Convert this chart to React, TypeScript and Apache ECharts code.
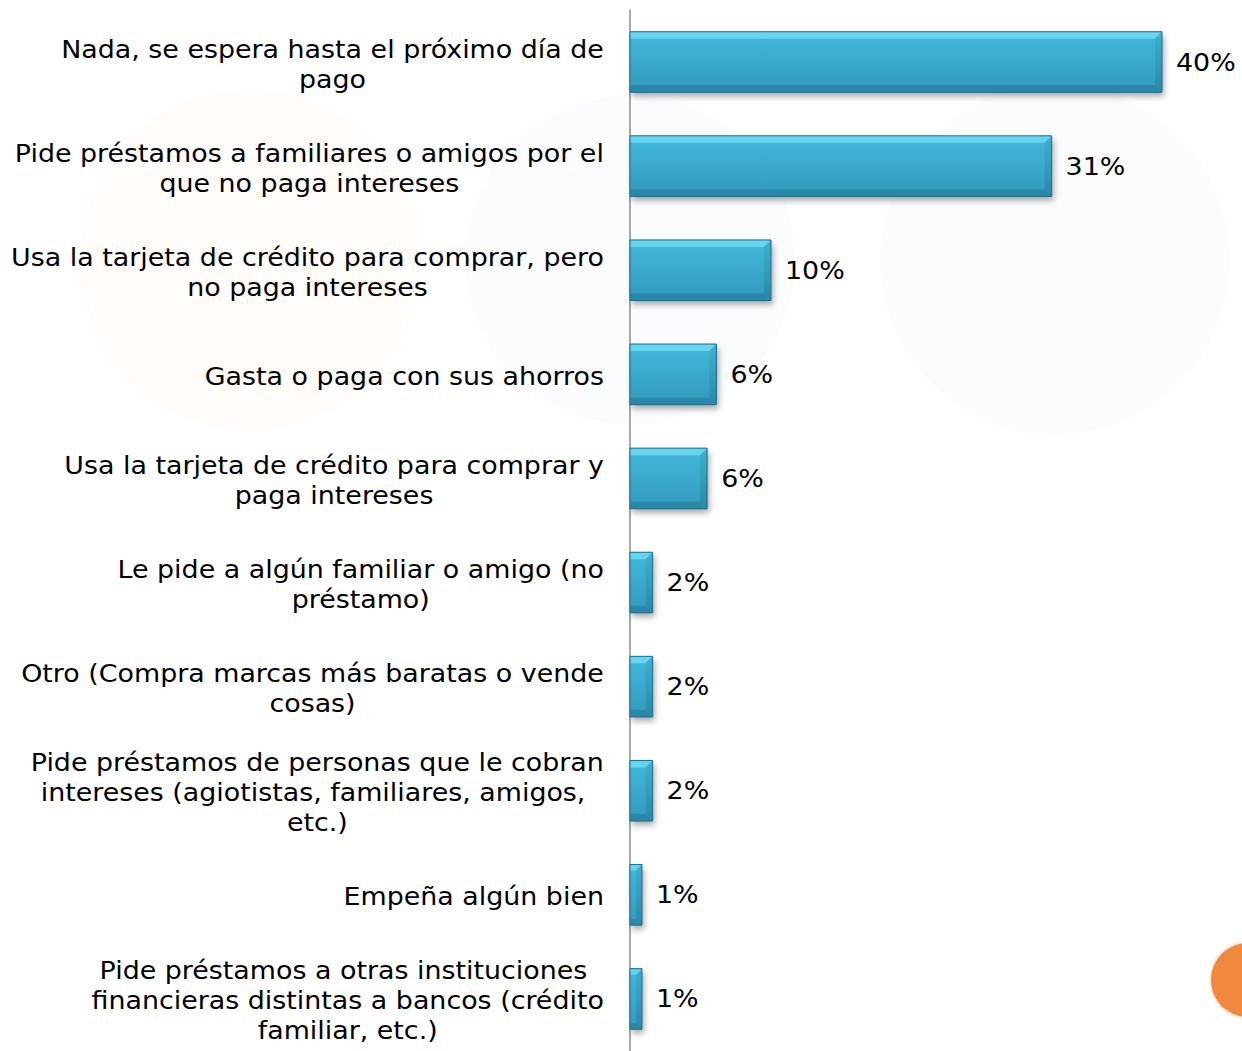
import React, { useEffect, useRef } from "react";
import * as echarts from "echarts";

const categories = [
  "Nada, se espera hasta el próximo día de\npago",
  "Pide préstamos a familiares o amigos por el\nque no paga intereses",
  "Usa la tarjeta de crédito para comprar, pero\nno paga intereses",
  "Gasta o paga con sus ahorros",
  "Usa la tarjeta de crédito para comprar y\npaga intereses",
  "Le pide a algún familiar o amigo (no\npréstamo)",
  "Otro (Compra marcas más baratas o vende\ncosas)",
  "Pide préstamos de personas que le cobran\nintereses (agiotistas, familiares, amigos, \netc.)",
  "Empeña algún bien",
  "Pide préstamos a otras instituciones \nfinancieras distintas a bancos (crédito\nfamiliar, etc.)",
];
const values = [40.0, 31.7, 10.6, 6.5, 5.8, 1.7, 1.7, 1.7, 0.9, 0.9];
const valueLabels = ["40%", "31%", "10%", "6%", "6%", "2%", "2%", "2%", "1%", "1%"];

const FONT = "'DejaVu Sans', Verdana, sans-serif";
const FS = 24;
const SX = 1.12;

export default function App() {
  const ref = useRef<HTMLDivElement>(null);
  useEffect(() => {
    if (!ref.current) return;
    const chart = echarts.init(ref.current, null, { renderer: "svg" });
    const renderItem = (params: any, api: any) => {
      const idx = params.dataIndex;
      const v = api.value(0);
      const c = api.value(1);
      const start = api.coord([0, c]);
      const end = api.coord([v, c]);
      const band = api.size([0, 1])[1];
      const h = band * 0.582;
      const x0 = start[0];
      const x1 = end[0];
      const yc = end[1];
      const y0 = yc - h / 2;
      const y1 = yc + h / 2;
      const w = x1 - x0;
      const b = Math.min(7, w / 2);
      const lines = categories[idx].split("\n");
      const rich = lines.map((l) => `{c|${l}}`).join("\n");
      return {
        type: "group",
        children: [
          {
            type: "rect",
            shape: { x: x0, y: y0, width: w, height: h },
            style: {
              fill: new echarts.graphic.LinearGradient(0, 0, 0, 1, [
                { offset: 0, color: "#42b9dc" },
                { offset: 1, color: "#3299bc" },
              ]),
              shadowBlur: 6,
              shadowOffsetX: 2,
              shadowOffsetY: 4,
              shadowColor: "rgba(0,0,0,0.35)",
            },
          },
          {
            type: "polygon",
            shape: { points: [[x0, y0], [x1, y0], [x1 - b, y0 + b], [x0, y0 + b]] },
            style: { fill: "#66d5ef" },
          },
          {
            type: "polygon",
            shape: { points: [[x0, y1], [x1, y1], [x1 - b, y1 - b], [x0, y1 - b]] },
            style: { fill: "#2b87a6" },
          },
          {
            type: "polygon",
            shape: { points: [[x1, y0], [x1, y1], [x1 - b, y1 - b], [x1 - b, y0 + b]] },
            style: {
              fill: new echarts.graphic.LinearGradient(0, 0, 0, 1, [
                { offset: 0, color: "#3fb0d2" },
                { offset: 1, color: "#2a88a8" },
              ]),
            },
          },
          {
            type: "rect",
            shape: { x: x0, y: y0, width: w, height: h },
            style: { fill: "none", stroke: "#1f6e88", lineWidth: 1 },
          },
          {
            type: "text",
            x: x1 + 14,
            y: yc,
            scaleX: SX,
            style: {
              text: valueLabels[idx],
              fill: "#000",
              fontSize: FS,
              fontFamily: FONT,
              align: "left",
              verticalAlign: "middle",
            },
          },
          {
            type: "text",
            x: x0 - 26,
            y: yc + 2,
            scaleX: SX,
            style: {
              text: rich,
              fill: "#000",
              fontSize: FS,
              fontFamily: FONT,
              align: "right",
              verticalAlign: "middle",
              lineHeight: 30,
              rich: {
                c: {
                  align: "center",
                  fill: "#000",
                  fontSize: FS,
                  fontFamily: FONT,
                  lineHeight: 30,
                },
              },
            },
          },
        ],
      };
    };
    chart.setOption({
      animation: false,
      backgroundColor: "#ffffff",
      graphic: [
        { type: "circle", z: 0, shape: { cx: 250, cy: 260, r: 170 }, style: { fill: "rgba(245,175,100,0.03)" } },
        { type: "circle", z: 0, shape: { cx: 630, cy: 260, r: 165 }, style: { fill: "rgba(110,170,225,0.03)" } },
        { type: "circle", z: 0, shape: { cx: 1055, cy: 260, r: 175 }, style: { fill: "rgba(130,205,150,0.03)" } },
        {
          type: "circle",
          z: 10,
          shape: { cx: 1248, cy: 980, r: 37 },
          style: { fill: "#f08840", shadowBlur: 4, shadowColor: "rgba(240,136,64,0.5)" },
        },
      ],
      grid: { left: 630, top: 10, right: 13.5, height: 1048 },
      xAxis: { type: "value", min: 0, max: 45, show: false },
      yAxis: {
        type: "category",
        data: categories,
        inverse: true,
        axisLine: { show: true, lineStyle: { color: "#8c8c8c", width: 1.5 } },
        axisTick: { show: false },
        axisLabel: { show: false },
        splitLine: { show: false },
      },
      series: [
        {
          type: "custom",
          renderItem,
          encode: { x: 0, y: 1 },
          data: values.map((v, i) => [v, i]),
          clip: false,
        },
      ],
    });
    return () => chart.dispose();
  }, []);
  return (
    <div
      ref={ref}
      style={{ position: "absolute", left: 0, top: 0, width: 1242, height: 1051 }}
    />
  );
}
